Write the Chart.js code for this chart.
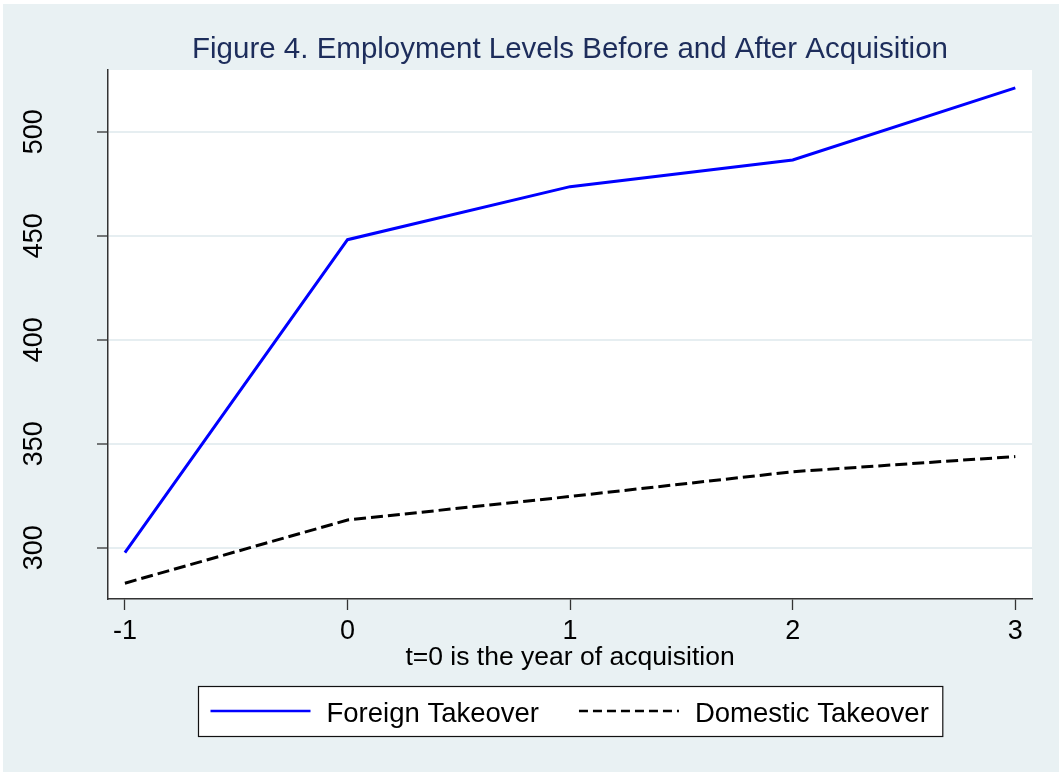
<!doctype html>
<html lang="en">
<head>
<meta charset="utf-8">
<title>Employment Levels Before and After Acquisition</title>
<script src="https://cdn.jsdelivr.net/npm/chart.js@4.4.0/dist/chart.umd.min.js"></script>
<style>
  body { margin: 0; background: #fff; }
  #wrap { position: absolute; left: 3px; top: 4px; width: 1056px; height: 768px; background: #e9f1f3; }
</style>
</head>
<body>
<div id="wrap"><canvas id="chart"></canvas></div>
<script>
// values (years relative to acquisition)
const years    = [-1, 0, 1, 2, 3];
const foreign  = [297.6, 448.1, 473.6, 486.4, 521.1];
const domestic = [282.9, 313.3, 324.6, 336.5, 343.8];
const yTicks   = [300, 350, 400, 450, 500];
const xTicks   = [-1, 0, 1, 2, 3];

const FONT = "'Liberation Sans', Arial, Helvetica, sans-serif";
Chart.defaults.font.family = FONT;

const toPoints = (xs, ys) => xs.map((x, i) => ({ x, y: ys[i] }));

// white plot region, Stata style
const plotBg = {
  id: 'plotBg',
  beforeDraw(chart) {
    const { ctx, chartArea: a } = chart;
    ctx.save();
    ctx.fillStyle = '#ffffff';
    ctx.fillRect(a.left, a.top, a.right - a.left, a.bottom - a.top);
    ctx.restore();
  }
};

// y labels are rotated 90 degrees, which chart.js won't do on a vertical axis
const yLabels = {
  id: 'yLabels',
  afterDraw(chart) {
    const { ctx } = chart;
    const s = chart.scales.y;
    ctx.save();
    ctx.font = '27px ' + FONT;
    ctx.fillStyle = '#000';
    ctx.textAlign = 'center';
    ctx.textBaseline = 'alphabetic';
    s.ticks.forEach(t => {
      ctx.save();
      ctx.translate(38.7, s.getPixelForValue(t.value));
      ctx.rotate(-Math.PI / 2);
      ctx.fillText(String(t.value), 0, 0);
      ctx.restore();
    });
    ctx.restore();
  }
};

// boxed legend under the axis title
const boxLegend = {
  id: 'boxLegend',
  afterDraw(chart) {
    const { ctx, chartArea: a } = chart;
    const ds = chart.data.datasets;
    ctx.save();
    ctx.font = '27.5px ' + FONT;
    const padL = 12, padR = 14, sample = 100, gap = 16, itemGap = 40;
    const widths = ds.map(d => ctx.measureText(d.label).width);
    let total = padL + padR;
    widths.forEach((w, i) => { total += sample + gap + w + (i ? itemGap : 0); });
    const cx = (a.left + a.right) / 2;
    const left = Math.round(cx - total / 2) + 0.5;
    const top = 682.5, bottom = 732.5;
    ctx.fillStyle = '#fff';
    ctx.fillRect(left, top, total, bottom - top);
    ctx.strokeStyle = '#111';
    ctx.lineWidth = 1.2;
    ctx.strokeRect(left, top, total, bottom - top);
    let x = left + padL;
    ds.forEach((d, i) => {
      if (i) x += itemGap;
      ctx.beginPath();
      ctx.setLineDash(d.legendDash || []);
      ctx.strokeStyle = d.borderColor;
      ctx.lineWidth = 2.5;
      ctx.moveTo(x, 707);
      ctx.lineTo(x + sample, 707);
      ctx.stroke();
      ctx.setLineDash([]);
      x += sample + gap;
      ctx.fillStyle = '#000';
      ctx.textBaseline = 'alphabetic';
      ctx.fillText(d.label, x, 717.7);
      x += widths[i];
    });
    ctx.restore();
  }
};

new Chart(document.getElementById('chart'), {
  type: 'line',
  data: {
    datasets: [
      { label: 'Foreign Takeover', data: toPoints(years, foreign),
        borderColor: '#0000ff', borderWidth: 3, pointRadius: 0, tension: 0, fill: false },
      { label: 'Domestic Takeover', data: toPoints(years, domestic),
        borderColor: '#000000', borderWidth: 3, borderDash: [12, 5], legendDash: [9, 5],
        pointRadius: 0, tension: 0, fill: false },
    ]
  },
  options: {
    responsive: true,
    maintainAspectRatio: false,
    animation: false,
    layout: { padding: { left: 0, right: 27, top: 0, bottom: 93 } },
    plugins: {
      legend: { display: false },
      tooltip: { enabled: false },
      title: {
        display: true,
        fullSize: false,
        text: 'Figure 4. Employment Levels Before and After Acquisition',
        color: '#1d2d5b',
        font: { size: 29.5, weight: 'normal', lineHeight: 1.2 },
        padding: { top: 28.4, bottom: 2.2 }
      }
    },
    scales: {
      x: {
        type: 'linear',
        min: -1.076, max: 3.075,
        afterBuildTicks: s => { s.ticks = xTicks.map(v => ({ value: v })); },
        afterFit: s => { s.height = 80; },
        grid: { drawOnChartArea: false, drawTicks: true, tickLength: 11, tickColor: '#333', tickWidth: 1.3 },
        border: { display: true, color: '#333', width: 1.5 },
        ticks: { color: '#000', font: { size: 27 }, padding: 5.8, maxRotation: 0, autoSkip: false },
        title: {
          display: true,
          text: 't=0 is the year of acquisition',
          color: '#000',
          font: { size: 26.5, lineHeight: 1.2 },
          padding: { top: 0, bottom: 5.6 }
        }
      },
      y: {
        type: 'linear',
        min: 275.3, max: 529.7,
        afterBuildTicks: s => { s.ticks = yTicks.map(v => ({ value: v })); },
        afterFit: s => { s.width = 105; },
        grid: { color: '#e6eef1', lineWidth: 2, drawTicks: true, tickLength: 11, tickColor: '#333', tickWidth: 1.3 },
        border: { display: true, color: '#333', width: 1.5 },
        ticks: { display: false }
      }
    }
  },
  plugins: [plotBg, yLabels, boxLegend]
});
</script>
</body>
</html>
